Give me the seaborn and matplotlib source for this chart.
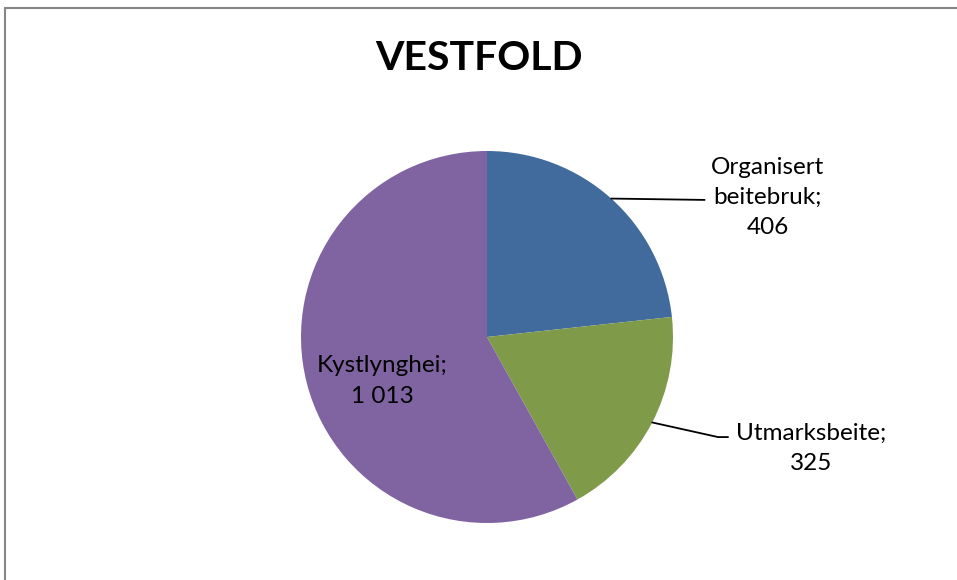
import matplotlib
matplotlib.use('Agg')
import numpy as np
import matplotlib.pyplot as plt
import seaborn as sns
from matplotlib.lines import Line2D

# ---------------------------
# Data
# ---------------------------
title = "VESTFOLD"
categories = ["Organisert beitebruk", "Utmarksbeite", "Kystlynghei"]
values = [406, 325, 1013]
label_texts = ["Organisert\nbeitebruk;\n406", "Utmarksbeite;\n325", "Kystlynghei;\n1 013"]
colors = ["#416B9C", "#7F9B49", "#8064A2"]

# ---------------------------
# Figure
# ---------------------------
sns.set_theme(style="white")
plt.rcParams['font.family'] = ['Lato', 'DejaVu Sans']

W, H = 957, 580
fig = plt.figure(figsize=(W / 100, H / 100), dpi=100)
fig.patch.set_facecolor("white")

# chart-area frame (only top and left edges visible)
fig.add_artist(Line2D([5 / W, 1], [1 - 8 / H, 1 - 8 / H], transform=fig.transFigure,
                      color="#868686", lw=1.5))
fig.add_artist(Line2D([5 / W, 5 / W], [0, 1 - 8 / H], transform=fig.transFigure,
                      color="#868686", lw=1.5))

cx, cy, r = 487, 337, 186
ax = fig.add_axes([(cx - r) / W, (H - cy - r) / H, 2 * r / W, 2 * r / H])

wedges, _ = ax.pie(values, colors=colors, startangle=90, counterclock=False,
                   radius=1.0, wedgeprops=dict(linewidth=0))
ax.set_xlim(-1, 1)
ax.set_ylim(-1, 1)
ax.set_aspect("equal")
ax.axis("off")

fig.text(0.5, 1 - 59 / H, title, ha="center", va="center",
         fontsize=29.5, fontweight="bold", color="black")

# ---------------------------
# Labels
# ---------------------------
def mid_point(w, rr=1.0):
    a = np.deg2rad((w.theta1 + w.theta2) / 2)
    return rr * np.cos(a), rr * np.sin(a)

# Organisert beitebruk: leader line to the right
x0, y0 = mid_point(wedges[0])
ax.plot([x0, 1.17], [y0, 0.737], color="black", lw=1.3, clip_on=False)
ax.text(1.51, 0.75, label_texts[0], ha="center", va="center", fontsize=17.5,
        linespacing=1.55, color="black")

# Utmarksbeite
x1, y1 = mid_point(wedges[1])
ax.plot([x1, 1.242, 1.296], [y1, -0.538, -0.538], color="black", lw=1.3, clip_on=False)
ax.text(1.742, -0.6, label_texts[1], ha="center", va="center", fontsize=17.5,
        linespacing=1.55, color="black")

# Kystlynghei: inside the slice
x2, y2 = mid_point(wedges[2], 0.58)
ax.text(x2, y2 - 0.09, label_texts[2], ha="center", va="center", fontsize=17.5,
        linespacing=1.55, color="black")

fig.savefig("out.png", dpi=100, facecolor="white")
plt.close(fig)
